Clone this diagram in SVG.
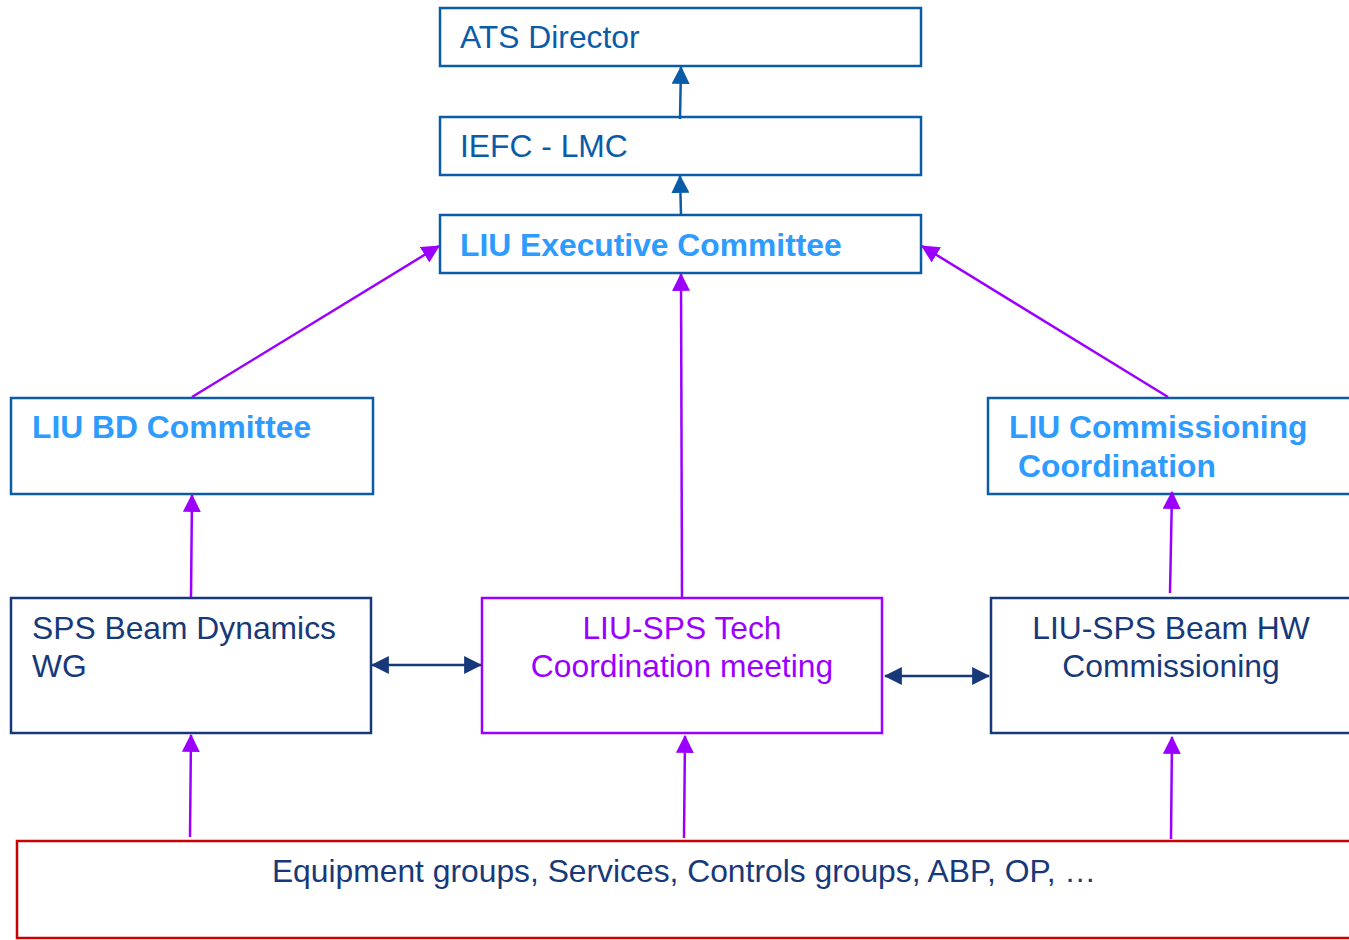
<svg xmlns="http://www.w3.org/2000/svg" width="1349" height="940" viewBox="0 0 1349 940">
<style>
text{font-family:"Liberation Sans",Arial,sans-serif;font-size:31.8px}
.b1{fill:#fff;stroke:#0b5ca8;stroke-width:2.5}
.b2{fill:#fff;stroke:#17397a;stroke-width:2.5}
.bp{fill:#fff;stroke:#9b00ff;stroke-width:2.5}
.br{fill:#fff;stroke:#cc0000;stroke-width:2.5}
.t1{fill:#0b5ca8}
.tl{fill:#2e9bff;font-weight:bold}
.t2{fill:#17397a}
.tp{fill:#9b00ff}
.cb{stroke:#0b5ca8;stroke-width:2.5;fill:none}
.cp{stroke:#9b00ff;stroke-width:2.5;fill:none}
.cn{stroke:#17397a;stroke-width:2.5;fill:none}
</style>
<defs>
<marker id="ab" markerUnits="userSpaceOnUse" markerWidth="18" markerHeight="18" viewBox="0 0 16 16" refX="15" refY="8" orient="auto-start-reverse"><path d="M0,0 L16,8 L0,16 z" fill="#0b5ca8"/></marker>
<marker id="ap" markerUnits="userSpaceOnUse" markerWidth="18" markerHeight="18" viewBox="0 0 16 16" refX="15" refY="8" orient="auto-start-reverse"><path d="M0,0 L16,8 L0,16 z" fill="#9b00ff"/></marker>
<marker id="an" markerUnits="userSpaceOnUse" markerWidth="18" markerHeight="18" viewBox="0 0 16 16" refX="15" refY="8" orient="auto-start-reverse"><path d="M0,0 L16,8 L0,16 z" fill="#17397a"/></marker>
</defs>
<g id="ats"><rect class="b1" x="440" y="8" width="481" height="58"/><text class="t1" x="460" y="48">ATS Director</text></g>
<g id="iefc"><rect class="b1" x="440" y="117" width="481" height="58"/><text class="t1" x="460" y="157">IEFC - LMC</text></g>
<g id="exec"><rect class="b1" x="440" y="215" width="481" height="58"/><text class="tl" x="460" y="256">LIU Executive Committee</text></g>
<g id="bd"><rect class="b1" x="11" y="398" width="362" height="96"/><text class="tl" x="32" y="438">LIU BD Committee</text></g>
<g id="coord"><rect class="b1" x="988" y="398" width="370" height="96"/><text class="tl" x="1009" y="438">LIU Commissioning</text><text class="tl" x="1018" y="477">Coordination</text></g>
<g id="spswg"><rect class="b2" x="11" y="598" width="360" height="135"/><text class="t2" x="32" y="639">SPS Beam Dynamics</text><text class="t2" x="32" y="677">WG</text></g>
<g id="tech"><rect class="bp" x="482" y="598" width="400" height="135"/><text class="tp" x="682" y="639" text-anchor="middle">LIU-SPS Tech</text><text class="tp" x="682" y="677" text-anchor="middle">Coordination meeting</text></g>
<g id="hw"><rect class="b2" x="991" y="598" width="367" height="135"/><text class="t2" x="1171" y="639" text-anchor="middle">LIU-SPS Beam HW</text><text class="t2" x="1171" y="677" text-anchor="middle">Commissioning</text></g>
<g id="equip"><rect class="br" x="17" y="841" width="1345" height="97"/><text class="t2" x="684" y="882" text-anchor="middle">Equipment groups, Services, Controls groups, ABP, OP, …</text></g>
<g id="connectors">
<line class="cb" x1="680" y1="119" x2="681" y2="67" marker-end="url(#ab)"/>
<line class="cb" x1="681" y1="215" x2="680" y2="176" marker-end="url(#ab)"/>
<line class="cp" x1="192" y1="397" x2="439" y2="246" marker-end="url(#ap)"/>
<line class="cp" x1="682" y1="597" x2="681" y2="274" marker-end="url(#ap)"/>
<line class="cp" x1="1168" y1="397" x2="922" y2="246" marker-end="url(#ap)"/>
<line class="cp" x1="191" y1="597" x2="192" y2="495" marker-end="url(#ap)"/>
<line class="cp" x1="1170" y1="593" x2="1172" y2="492" marker-end="url(#ap)"/>
<line class="cn" x1="372" y1="665" x2="481" y2="665" marker-start="url(#an)" marker-end="url(#an)"/>
<line class="cn" x1="885" y1="676" x2="989" y2="676" marker-start="url(#an)" marker-end="url(#an)"/>
<line class="cp" x1="190" y1="837" x2="191" y2="735" marker-end="url(#ap)"/>
<line class="cp" x1="684" y1="838" x2="685" y2="736" marker-end="url(#ap)"/>
<line class="cp" x1="1171" y1="839" x2="1172" y2="737" marker-end="url(#ap)"/>
</g>
</svg>
